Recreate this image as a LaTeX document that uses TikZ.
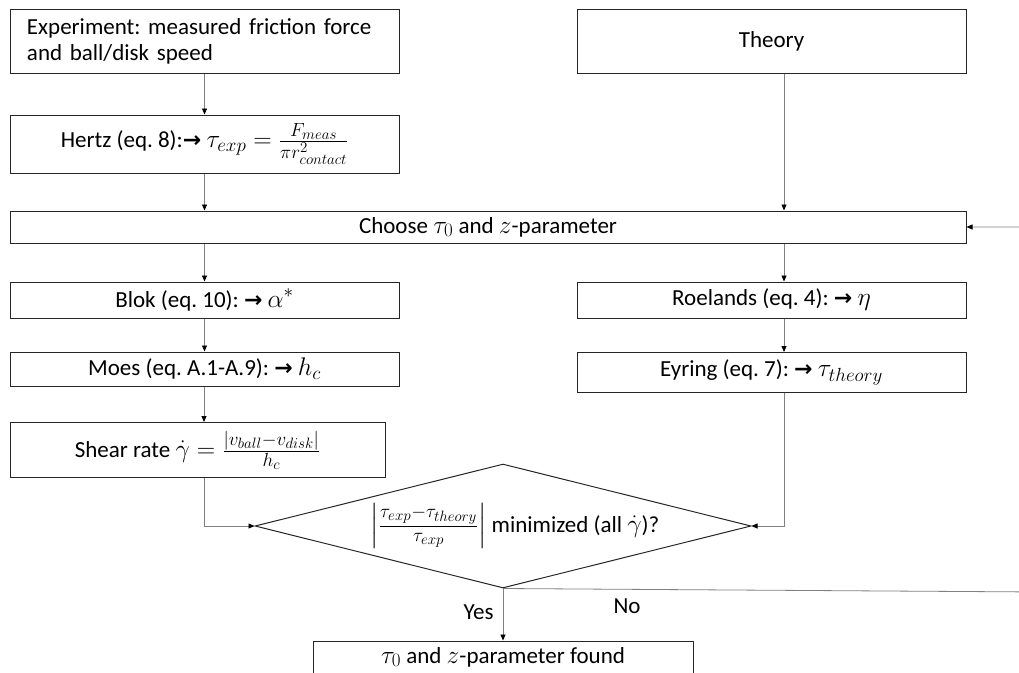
\documentclass[tikz,border=0pt]{standalone}
\usepackage{fix-cm}
\usepackage{amsmath}
\usepackage{fontspec}
\setmainfont{Carlito}
\newfontfamily\arrfont{DejaVu Sans}
\newcommand{\thickarrow}{{\arrfont\bfseries\fontsize{22}{24}\selectfont →}}
\DeclareMathSizes{23}{25.5}{19}{15}
\frenchspacing
\usetikzlibrary{arrows.meta,shapes.geometric}
\begin{document}
\begin{tikzpicture}[x=1pt,y=-1pt,
  txt/.style={font=\fontsize{23}{26}\selectfont, inner sep=0pt},
  box/.style={txt, draw=black!85, line width=1pt, rectangle, minimum width=389pt},
  conn/.style={draw=black!50, line width=0.8pt, -{Triangle[length=6pt,width=5pt,color=black]}},
  plain/.style={draw=black!50, line width=0.8pt}]
\useasboundingbox (0,0) rectangle (1019,672);
\clip (0,0) rectangle (1019,672);
% left column
\node[box, minimum height=64pt, text width=355pt, align=left] (exp) at (204.5,41)
  {Experiment: measured friction force\\and ball/disk speed};
\node[box, minimum height=58pt] (hertz) at (204.5,144)
  {Hertz (eq. 8):\thickarrow\ $\tau_{exp}=\frac{F_{meas}}{\pi r^2_{contact}}$};
\node[box, minimum width=956pt, minimum height=32pt] (choose) at (488,227)
  {Choose $\tau_0$ and $z$-parameter};
\node[box, minimum height=36pt] (blok) at (204.5,300)
  {Blok (eq. 10): \thickarrow\ $\alpha^{*}$};
\node[box, minimum height=34pt] (moes) at (204.5,369)
  {Moes (eq. A.1-A.9): \thickarrow\ $h_c$};
\node[box, minimum width=375pt, minimum height=55pt] (shear) at (197.5,450)
  {Shear rate $\dot{\gamma}=\frac{|v_{ball}-v_{disk}|}{h_c}$};
% right column
\node[box, minimum height=64pt] (theory) at (771.5,41) {Theory};
\node[box, minimum height=36pt] (roel) at (771.5,300)
  {Roelands (eq. 4): \thickarrow\ $\eta$};
\node[box, minimum height=40pt] (eyr) at (771.5,372.5)
  {Eyring (eq. 7): \thickarrow\ $\tau_{theory}$};
% decision
\node[draw=black!85, line width=1pt, diamond, minimum width=496pt, minimum height=124pt, inner sep=0pt] (dia) at (503,526) {};
\node[txt] (diatext) at (515,526)
  {$\left|\frac{\tau_{exp}-\tau_{theory}}{\tau_{exp}}\right|$ minimized (all $\dot{\gamma}$)?};
\node[box, minimum width=380pt, minimum height=32pt] (final) at (503,657)
  {$\tau_0$ and $z$-parameter found};
% helper coordinates
\coordinate (lx) at (204,0);
\coordinate (rx) at (784,0);
\coordinate (loopA) at (1040,592);
\coordinate (loopB) at (1040,227);
% connectors
\draw[conn] (exp.south) -- (hertz.north);
\draw[conn] (hertz.south) -- (hertz.south |- choose.north);
\draw[conn] (theory.south -| rx) -- (choose.north -| rx);
\draw[conn] (choose.south -| blok.north) -- (blok.north);
\draw[conn] (choose.south -| rx) -- (roel.north -| rx);
\draw[conn] (blok.south) -- (moes.north);
\draw[conn] (roel.south -| rx) -- (eyr.north -| rx);
\draw[conn] (moes.south -| lx) -- (shear.north -| lx);
\draw[conn] (shear.south -| lx) |- (dia.west);
\draw[conn] (eyr.south -| rx) |- (dia.east);
\draw[conn] (dia.south) -- node[txt, left=9pt, pos=0.45] (yes) {Yes} (final.north);
\draw[conn] (dia.south) -- (loopA) -- (loopB) -- (choose.east);
\node[txt] (no) at (627,606) {No};
\end{tikzpicture}
\end{document}
